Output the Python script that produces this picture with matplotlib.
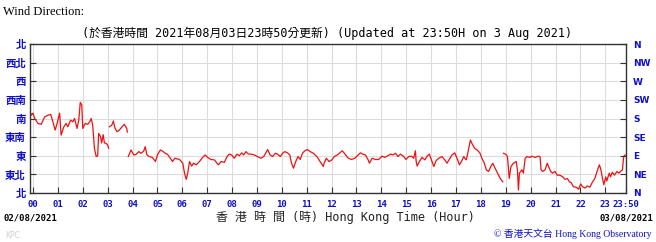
import numpy as np
import matplotlib
matplotlib.use("Agg")
import matplotlib.pyplot as plt

nan = np.nan
# Time (hours since 00:00 on 03/08/2021 HKT) and wind direction (degrees)
hours = [
    -0.13, -0.07, 0.00, 0.07, 0.20, 0.33, 0.47, 0.60, 0.71, 0.80, 0.89, 0.97,
    1.07, 1.13, 1.24, 1.33, 1.40, 1.51, 1.60, 1.67, 1.77, 1.84, 1.90, 1.96,
    2.00, 2.10, 2.20, 2.28, 2.34, 2.40, 2.47, 2.54, 2.60, 2.64, 2.71, 2.76,
    2.82, 2.87, 2.94, 3.00, 3.04, 3.055,
    3.07, 3.17, 3.23, 3.30, 3.38, 3.47, 3.58, 3.67, 3.77, 3.79, 3.81,
    3.83, 3.94, 4.05, 4.14, 4.25, 4.34, 4.45, 4.51, 4.58, 4.67, 4.80, 4.92,
    5.01, 5.12, 5.21, 5.32, 5.41, 5.52, 5.61, 5.70, 5.89,
    6.02, 6.09, 6.16, 6.22, 6.29, 6.38, 6.45, 6.56, 6.69, 6.82, 6.92,
    7.02, 7.15, 7.29, 7.45, 7.56, 7.69, 7.80, 7.89, 7.98,
    8.09, 8.20, 8.29, 8.39, 8.47, 8.56, 8.65, 8.76, 8.89,
    9.03, 9.16, 9.27, 9.36, 9.43, 9.53, 9.63, 9.74, 9.83, 9.94,
    10.03, 10.12, 10.23, 10.32, 10.39, 10.47, 10.56, 10.65, 10.74, 10.83, 10.92,
    11.03, 11.14, 11.27, 11.41, 11.54, 11.67, 11.70, 11.79, 11.90,
    12.01, 12.11, 12.23, 12.33, 12.43, 12.54, 12.67, 12.80, 12.94,
    13.07, 13.16, 13.25, 13.36, 13.47, 13.52, 13.63, 13.76, 13.89,
    14.03, 14.14, 14.23, 14.37, 14.46, 14.57, 14.67, 14.77, 14.90, 14.99,
    15.10, 15.21, 15.30, 15.37, 15.40, 15.44, 15.53, 15.64, 15.75, 15.84, 15.93,
    16.04, 16.11, 16.20, 16.31, 16.44, 16.55, 16.64, 16.73, 16.84, 16.95,
    17.04, 17.14, 17.22, 17.31, 17.41, 17.46, 17.58, 17.64, 17.75, 17.85, 17.96,
    18.04, 18.14, 18.22, 18.31, 18.40, 18.48, 18.57, 18.67, 18.78, 18.88, 18.895,
    18.91, 18.99, 19.07, 19.14, 19.21, 19.31, 19.42, 19.47, 19.51, 19.55, 19.65,
    19.71, 19.78, 19.85, 19.98,
    20.05, 20.18, 20.31, 20.38, 20.42, 20.48, 20.58, 20.67, 20.72, 20.81, 20.88, 20.98,
    21.07, 21.18, 21.29, 21.38, 21.48, 21.56, 21.63, 21.72, 21.83, 21.93,
    22.01, 22.09, 22.19, 22.28, 22.38, 22.49, 22.58, 22.67, 22.76, 22.81, 22.89, 22.94,
    23.02, 23.06, 23.16, 23.21, 23.28, 23.37, 23.47, 23.55, 23.61, 23.69, 23.74, 23.80,
]
direction = [
    200, 188, 193, 180, 168, 166, 184, 188, 190, 172, 152, 168,
    193, 140, 160, 168, 160, 176, 172, 180, 156, 176, 219, 213,
    156, 168, 166, 172, 180, 164, 108, 88, 90, 144, 137, 121,
    141, 121, 120, 116, 108, nan,
    160, 164, 174, 156, 148, 152, 160, 166, 156, 147, nan,
    88, 104, 92, 93, 100, 96, 101, 112, 92, 88, 86, 76,
    93, 104, 101, 96, 93, 84, 76, 84, 81,
    72, 48, 33, 48, 76, 65, 72, 68, 76, 86, 92,
    86, 81, 80, 68, 76, 74, 88, 94, 92,
    84, 94, 90, 97, 92, 100, 94, 94, 92,
    88, 84, 88, 97, 105, 92, 88, 96, 94, 88,
    96, 100, 97, 92, 72, 60, 76, 88, 81, 96, 102,
    105, 100, 96, 88, 76, 64, 72, 84, 76,
    80, 88, 92, 97, 102, 94, 84, 81, 84,
    92, 97, 94, 92, 80, 72, 84, 81, 81,
    89, 86, 89, 94, 92, 96, 88, 94, 88, 81,
    88, 89, 84, 102, 76, 65, 76, 86, 80, 89, 94,
    76, 64, 78, 84, 88, 80, 72, 81, 92, 97,
    84, 68, 76, 88, 80, 92, 128, 120, 108, 104, 97,
    84, 72, 56, 52, 64, 72, 60, 48, 35, 27, nan,
    96, 94, 88, 35, 64, 72, 76, 56, 7, 48, 56,
    48, 84, 88, 86,
    89, 86, 89, 88, 56, 52, 56, 72, 64, 52, 48, 52,
    43, 43, 39, 33, 35, 27, 25, 15, 14, 9,
    22, 15, 12, 17, 14, 27, 35, 52, 68, 60, 35, 20,
    39, 29, 48, 39, 50, 43, 52, 48, 52, 56, 88, 92,
]

hour_ticks = list(range(24)) + [23 + 50 / 60]
hour_labels = [f"{h:02d}" for h in range(24)] + ["23:50"]
dir_ticks = [0, 45, 90, 135, 180, 225, 270, 315, 360]
dir_labels_zh = ["北", "東北", "東", "東南", "南", "西南", "西", "西北", "北"]
dir_labels_en = ["N", "NE", "E", "SE", "S", "SW", "W", "NW", "N"]

BLUE = "#1010c8"
CJK = ["Noto Sans CJK TC", "DejaVu Sans"]
MONO_CJK = ["DejaVu Sans Mono", "Noto Sans CJK TC"]

W, H = 656, 242
fig = plt.figure(figsize=(W / 100, H / 100), dpi=100)
fig.patch.set_facecolor("white")
L, R, T, B = 30, 626, 44, 193
ax = fig.add_axes([L / W, (H - B) / H, (R - L) / W, (B - T) / H])

ax.plot(hours, direction, color="#ee1111", lw=0.9)
ax.set_xlim(-0.12, 23 + 50 / 60)
ax.set_ylim(0, 360)

ax.set_xticks(hour_ticks)
ax.set_xticklabels(hour_labels, color=BLUE, fontsize=6.5, fontweight="bold",
                   family="DejaVu Sans Mono")
ax.set_yticks(dir_ticks)
ax.set_yticklabels(dir_labels_zh, color=BLUE, fontsize=7.5, family=CJK,
                   fontweight="bold")
ax.grid(True, color="#dcdcdc", lw=0.8)
ax.tick_params(axis="x", direction="in", length=4, width=0.8, color="#333333", pad=5)
ax.tick_params(axis="y", direction="in", length=4, width=0.8, color="#333333", pad=3)
for s in ax.spines.values():
    s.set_color("#333333")
    s.set_linewidth(1.0)

ax2 = ax.twinx()
ax2.set_ylim(0, 360)
ax2.set_yticks(dir_ticks)
ax2.set_yticklabels(dir_labels_en, color=BLUE, fontsize=6.5, fontweight="bold",
                    family="DejaVu Sans")
ax2.tick_params(axis="y", direction="in", length=4, width=0.8, color="#333333", pad=5)
for s in ax2.spines.values():
    s.set_visible(False)

def fx(x):
    return x / W

def fy(y):
    return 1 - y / H

fig.text(fx(3), fy(12), "Wind Direction:", family="Liberation Serif", fontsize=9,
         va="center", ha="left", color="black")
fig.text(fx(327), fy(33),
         "(於香港時間 2021年08月03日23時50分更新) (Updated at 23:50H on 3 Aug 2021)",
         family=MONO_CJK, fontsize=8.5, va="center", ha="center", color="black")
fig.text(fx(3), fy(218), "02/08/2021", family="DejaVu Sans Mono", fontsize=6.5,
         fontweight="bold", va="center", ha="left")
fig.text(fx(653), fy(218), "03/08/2021", family="DejaVu Sans Mono", fontsize=6.5,
         fontweight="bold", va="center", ha="right")
fig.text(fx(345), fy(217), "香 港 時 間 (時) Hong Kong Time (Hour)", family=MONO_CJK,
         fontsize=8.6, va="center", ha="center", color="#222222")
fig.text(fx(5), fy(236), "KPC", family="DejaVu Sans", fontsize=5.5, color="#d0d0d0",
         va="center", ha="left")
fig.text(fx(652), fy(234), "© 香港天文台 Hong Kong Observatory",
         family=["Liberation Serif", "Noto Sans CJK TC"], fontsize=7, color=BLUE,
         va="center", ha="right")

fig.savefig("out.png", dpi=100, facecolor="white")
